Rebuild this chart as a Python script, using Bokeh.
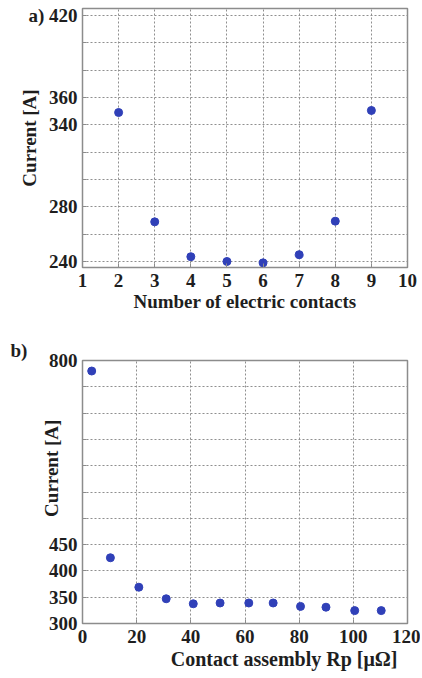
from bokeh.plotting import figure
from bokeh.models import FixedTicker, Range1d, Title
from bokeh.layouts import column
from bokeh.embed import file_html
from bokeh.resources import INLINE

# ---- data (a) ----
n_contacts = [2, 3, 4, 5, 6, 7, 8, 9]
current_a = [349, 269, 243.5, 240, 239, 245, 269.5, 350.5]
a_xticks = [1, 2, 3, 4, 5, 6, 7, 8, 9, 10]
a_yticks = [240, 260, 280, 300, 320, 340, 360, 380, 400, 420]
a_ylabels = {240: "240", 280: "280", 340: "340", 360: "360", 420: "a) 420"}

# ---- data (b) ----
rp = [3.4, 10.3, 20.8, 30.9, 40.9, 50.8, 61.4, 70.4, 80.5, 89.9, 100.5, 110.3]
current_b = [780, 425, 369, 347, 337.5, 339, 339, 339, 332.5, 331, 324.5, 324.5]
b_xticks = [0, 20, 40, 60, 80, 100, 120]
b_yticks = [300, 350, 400, 450, 500, 550, 600, 650, 700, 750, 800]
b_ylabels = {300: "300", 350: "350", 400: "400", 450: "450", 800: "800"}

FONT = "Liberation Serif"
TXT = "#1e1e1e"
DOT = "#3040b8"
GRID = "#8f8f8f"
FRAME = "#8c8c8c"
FS = "19px"


def style(p, xticks, yticks, ylabels):
    p.outline_line_color = FRAME
    p.outline_line_width = 1.5
    p.xaxis.ticker = FixedTicker(ticks=xticks)
    p.yaxis.ticker = FixedTicker(ticks=yticks)
    p.yaxis.major_label_overrides = {t: ylabels.get(t, "") for t in yticks}
    for ax in (p.xaxis, p.yaxis):
        ax.axis_line_color = None
        ax.major_tick_in = 4
        ax.major_tick_out = 0
        ax.major_tick_line_color = FRAME
        ax.minor_tick_line_color = None
        ax.major_label_text_font = FONT
        ax.major_label_text_font_style = "bold"
        ax.major_label_text_font_size = FS
        ax.major_label_text_color = TXT
        ax.axis_label_text_font = FONT
        ax.axis_label_text_font_style = "bold"
        ax.axis_label_text_font_size = FS
        ax.axis_label_text_color = TXT
    p.xaxis.major_label_standoff = 6
    p.yaxis.major_label_standoff = 5
    for g in (p.xgrid, p.ygrid):
        g.grid_line_color = GRID
        g.grid_line_dash = "2 2"
        g.grid_line_width = 1


def title(text, align, offset, standoff, size=FS):
    return Title(text=text, align=align, offset=offset, standoff=standoff,
                 text_font=FONT, text_font_style="bold", text_font_size=size,
                 text_color=TXT)


# ---- figure a ----
p1 = figure(width=420, height=318, output_backend="svg", toolbar_location=None,
            x_range=Range1d(1, 10), y_range=Range1d(235.6, 425.1),
            min_border_left=82, min_border_right=12, min_border_top=8,
            min_border_bottom=51)
style(p1, a_xticks, a_yticks, a_ylabels)
p1.xaxis.axis_label = "Number of electric contacts"
p1.xaxis.axis_label_standoff = 1
p1.yaxis.axis_label = "Current [A]"
p1.yaxis.axis_label_standoff = -15
p1.scatter(n_contacts, current_a, size=8, color=DOT)

# ---- figure b ----
p2 = figure(width=420, height=360, output_backend="svg", toolbar_location=None,
            x_range=Range1d(0, 120), y_range=Range1d(300, 800),
            min_border_left=75, min_border_right=13, min_border_top=42,
            min_border_bottom=55)
style(p2, b_xticks, b_yticks, b_ylabels)
p2.yaxis.axis_label = "\u2007\u2007\u2007\u2007\u2007Current [A]"
p2.yaxis.axis_label_standoff = -16
p2.scatter(rp, current_b, size=8, color=DOT)
p2.add_layout(title("b)", "left", -72, 0), "above")
p2.add_layout(title("Contact assembly Rp [\u03bc\u03a9]", "right", 10, 1, "20px"), "below")

layout = column(p1, p2, spacing=0)
open("out.html", "w").write(file_html(layout, INLINE))
